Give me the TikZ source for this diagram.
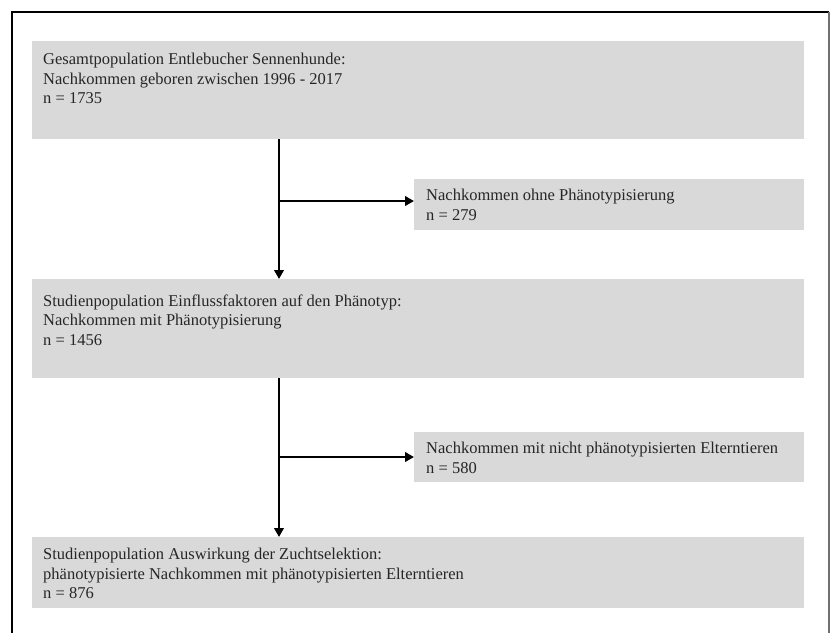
\documentclass[tikz,border=0pt]{standalone}
\usepackage{fontspec}
\setmainfont{Liberation Serif}
\usetikzlibrary{arrows.meta,calc}
\definecolor{boxgray}{HTML}{D9D9D9}
\definecolor{txt}{HTML}{262626}
\definecolor{framegray}{HTML}{707070}
\begin{document}
\begin{tikzpicture}[x=1pt,y=-1pt,
  boxfill/.style={fill=boxgray,draw=none,inner sep=0pt,anchor=north west},
  line/.style={anchor=base west,inner sep=0pt,text=txt,font=\fontsize{16.5}{19}\selectfont},
  arr/.style={line width=2.6pt,-{Triangle[length=9pt,width=9.5pt]}},
  frame/.style={line width=1.5pt}]
\useasboundingbox (0,0) rectangle (833,633);
% frame
\draw[frame,black] (12,633) -- (12,12) -- (829,12);
\draw[frame,framegray] (829,12) -- (829,633);
% boxes
\node[boxfill,minimum width=772pt,minimum height=98pt] (b1) at (32,41) {};
\node[boxfill,minimum width=390pt,minimum height=51pt] (b2) at (414,179) {};
\node[boxfill,minimum width=772pt,minimum height=99pt] (b3) at (32,279) {};
\node[boxfill,minimum width=390pt,minimum height=50pt] (b4) at (414,432) {};
\node[boxfill,minimum width=772pt,minimum height=71pt] (b5) at (32,537) {};
% texts
\node[line] (t11) at (43,64.5) {Gesamtpopulation Entlebucher Sennenhunde:};
\node[line] (t12) at (43,84) {Nachkommen geboren zwischen 1996 - 2017};
\node[line] (t13) at (43,103) {n = 1735};
\node[line] (t21) at (426,200) {Nachkommen ohne Phänotypisierung};
\node[line] (t22) at (426,220) {n = 279};
\node[line] (t31) at (43,306) {Studienpopulation Einflussfaktoren auf den Phänotyp:};
\node[line] (t32) at (43,325) {Nachkommen mit Phänotypisierung};
\node[line] (t33) at (43,345) {n = 1456};
\node[line] (t41) at (426,453) {Nachkommen mit nicht phänotypisierten Elterntieren};
\node[line] (t42) at (426,473) {n = 580};
\node[line] (t51) at (43,559) {Studienpopulation Auswirkung der Zuchtselektion:};
\node[line] (t52) at (43,579) {phänotypisierte Nachkommen mit phänotypisierten Elterntieren};
\node[line] (t53) at (43,598) {n = 876};
% connectors
\coordinate (j1) at (279,201);
\coordinate (j2) at (279,457);
\draw[arr] (j1 |- b1.south) -- (j1 |- b3.north);
\draw[arr] ([xshift=-1.3pt]j1) -- (j1 -| b2.west);
\draw[arr] (j2 |- b3.south) -- (j2 |- b5.north);
\draw[arr] ([xshift=-1.3pt]j2) -- (j2 -| b4.west);
\end{tikzpicture}
\end{document}
